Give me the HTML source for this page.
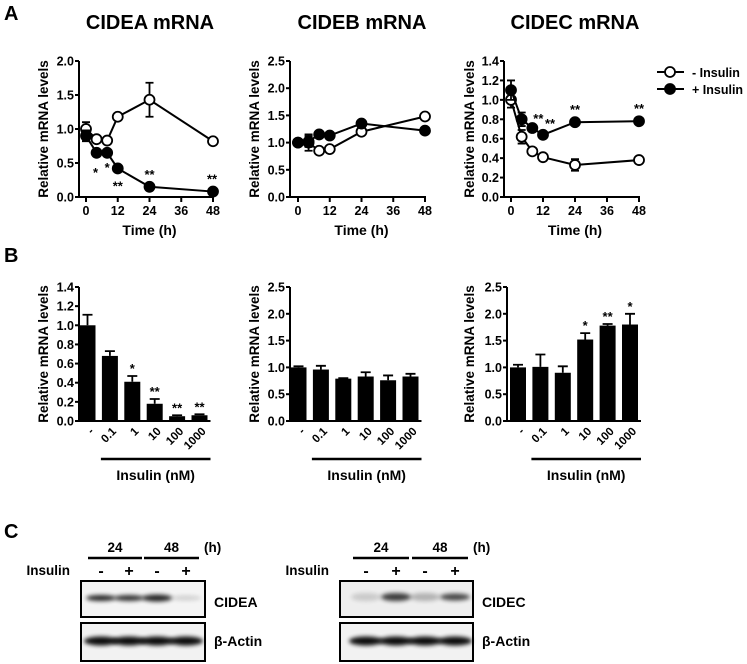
<!DOCTYPE html>
<html><head><meta charset="utf-8">
<style>
html,body{margin:0;padding:0;background:#fff;}
svg{display:block;font-family:"Liberation Sans",Arial,sans-serif;font-weight:bold;}
</style></head>
<body>
<svg id="fig" width="747" height="664" viewBox="0 0 747 664" xmlns="http://www.w3.org/2000/svg">
<defs>
<filter id="blur2" x="-20%" y="-100%" width="140%" height="300%"><feGaussianBlur stdDeviation="2.2"/></filter>
</defs>
<g id="root"></g>
</svg>
<script>
// ---- Panel A data (time course) ----
var timesA = [0, 4, 8, 12, 24, 48];
var ceaOpen = [1.0, 0.85, 0.83, 1.18, 1.43, 0.82];
var ceaOpenErr = [0.1, 0, 0, 0.05, 0.25, 0];
var ceaFilled = [0.9, 0.65, 0.65, 0.42, 0.15, 0.08];
var ceaFilledErr = [0.08, 0, 0, 0, 0, 0];
var cebOpen = [1.0, 1.0, 0.85, 0.88, 1.2, 1.48];
var cebOpenErr = [0, 0.15, 0, 0, 0, 0];
var cebFilled = [1.0, 1.02, 1.15, 1.13, 1.35, 1.22];
var cebFilledErr = [0, 0.1, 0, 0, 0, 0];
var cecOpen = [1.0, 0.62, 0.47, 0.41, 0.33, 0.38];
var cecOpenErr = [0.08, 0.07, 0, 0, 0.06, 0];
var cecFilled = [1.1, 0.8, 0.71, 0.64, 0.77, 0.78];
var cecFilledErr = [0.1, 0.07, 0, 0, 0, 0];
var timeTicks = [0, 12, 24, 36, 48];
var ceaTicks = [0, 0.5, 1.0, 1.5, 2.0];
var cebTicks = [0, 0.5, 1.0, 1.5, 2.0, 2.5];
var cecTicks = [0, 0.2, 0.4, 0.6, 0.8, 1.0, 1.2, 1.4];
// ---- Panel B data (dose) ----
var doseLabels = ['-', '0.1', '1', '10', '100', '1000'];
var bCea = [1.0, 0.68, 0.41, 0.18, 0.05, 0.06];
var bCeaErr = [0.11, 0.05, 0.06, 0.05, 0.01, 0.01];
var bCeaSig = ['', '', '*', '**', '**', '**'];
var bCeb = [1.0, 0.96, 0.79, 0.83, 0.76, 0.83];
var bCebErr = [0.02, 0.07, 0.01, 0.08, 0.09, 0.05];
var bCebSig = ['', '', '', '', '', ''];
var bCec = [1.0, 1.01, 0.9, 1.52, 1.78, 1.8];
var bCecErr = [0.05, 0.23, 0.12, 0.12, 0.03, 0.2];
var bCecSig = ['', '', '', '*', '**', '*'];
var bCeaTicks = [0, 0.2, 0.4, 0.6, 0.8, 1.0, 1.2, 1.4];
var bCebTicks = [0, 0.5, 1.0, 1.5, 2.0, 2.5];

var NS = 'http://www.w3.org/2000/svg';
var root = document.getElementById('root');
function mk(tag, attrs, parent, text) {
  var e = document.createElementNS(NS, tag);
  for (var k in attrs) e.setAttribute(k, attrs[k]);
  if (text !== undefined) e.textContent = text;
  (parent || root).appendChild(e);
  return e;
}

function yAxis(g, ax, y0, y1, ymax, ticks, title, titleX) {
  var sy = function (v) { return y0 - (y0 - y1) * v / ymax; };
  var l = mk('line', {x1: ax, y1: y0 + 1, x2: ax, y2: y1, stroke: '#000', 'stroke-width': 2}, g);
  
  
  ticks.forEach(function (t) {
    var tl = mk('line', {x1: ax - 4, y1: sy(t), x2: ax, y2: sy(t), stroke: '#000', 'stroke-width': 2}, g);
    
    
    var tx = mk('text', {x: ax - 5, y: sy(t) + 4.5, 'text-anchor': 'end', 'font-size': 12.5}, g, t.toFixed(1));
    
    
  });
  var ty = mk('text', {x: 0, y: 0, 'text-anchor': 'middle', 'font-size': 13.5,
    transform: 'translate(' + titleX + ',' + ((y0 + y1) / 2) + ') rotate(-90)'}, g, title);
  
  
  return sy;
}

function lineChart(cfg) {
  var g = mk('g', {});
  
  
  var y0 = 197, y1 = 61;
  var sy = yAxis(g, cfg.ax, y0, y1, cfg.ymax, cfg.ticks, 'Relative mRNA levels', cfg.titleX);
  var sx = function (t) { return cfg.x0 + (cfg.x48 - cfg.x0) * t / 48; };
  var xl = mk('line', {x1: cfg.ax - 1, y1: y0, x2: sx(48) + 1, y2: y0, stroke: '#000', 'stroke-width': 2}, g);
  
  
  timeTicks.forEach(function (t) {
    var tl = mk('line', {x1: sx(t), y1: y0, x2: sx(t), y2: y0 + 5, stroke: '#000', 'stroke-width': 2}, g);
    
    
    var tx = mk('text', {x: sx(t), y: y0 + 18, 'text-anchor': 'middle', 'font-size': 12.5}, g, String(t));
    
    
  });
  var xt = mk('text', {x: (sx(0) + sx(48)) / 2, y: y0 + 38, 'text-anchor': 'middle', 'font-size': 14}, g, 'Time (h)');
  
  
  var tt = mk('text', {x: cfg.titleCx, y: 29, 'text-anchor': 'middle', 'font-size': 20}, g, cfg.title);
  
  
  [[cfg.open, cfg.openErr, '#fff', 'series-minus-insulin'], [cfg.filled, cfg.filledErr, '#000', 'series-plus-insulin']].forEach(function (s) {
    var sg = mk('g', {}, g);
    
    
    var pts = s[0].map(function (v, i) { return sx(timesA[i]) + ',' + sy(v); }).join(' ');
    var pl = mk('polyline', {points: pts, fill: 'none', stroke: '#000', 'stroke-width': 2}, sg);
    
    
    s[0].forEach(function (v, i) {
      var e = s[1][i], x = sx(timesA[i]);
      if (e > 0) {
        var eb = mk('path', {d: 'M' + x + ',' + sy(v - e) + 'V' + sy(v + e) + 'M' + (x - 4) + ',' + sy(v + e) + 'H' + (x + 4) + 'M' + (x - 4) + ',' + sy(v - e) + 'H' + (x + 4), stroke: '#000', 'stroke-width': 1.8, fill: 'none'}, sg);
        
        
      }
      var c = mk('circle', {cx: x, cy: sy(v), r: 5, fill: s[2], stroke: '#000', 'stroke-width': 1.8}, sg);
      
      
    });
  });
  (cfg.stars || []).forEach(function (st) {
    var s = mk('text', {x: sx(timesA[st[0]]) + st[2], y: sy(cfg.filled[st[0]]) + st[3], 'text-anchor': 'middle', 'font-size': 13}, g, st[1]);
    
    
  });
}

lineChart({name: 'cidea-time-chart', title: 'CIDEA mRNA', titleCx: 150, ax: 79, x0: 86, x48: 213, ymax: 2.0, ticks: ceaTicks, titleX: 48,
  open: ceaOpen, openErr: ceaOpenErr, filled: ceaFilled, filledErr: ceaFilledErr,
  stars: [[1, '*', -1, 24], [2, '*', 0, 19], [3, '**', 0, 22], [4, '**', 0, -8], [5, '**', -1, -8]]});
lineChart({name: 'cideb-time-chart', title: 'CIDEB mRNA', titleCx: 362, ax: 290, x0: 298, x48: 425, ymax: 2.5, ticks: cebTicks, titleX: 259,
  open: cebOpen, openErr: cebOpenErr, filled: cebFilled, filledErr: cebFilledErr, stars: []});
lineChart({name: 'cidec-time-chart', title: 'CIDEC mRNA', titleCx: 575, ax: 504, x0: 511, x48: 639, ymax: 1.4, ticks: cecTicks, titleX: 474,
  open: cecOpen, openErr: cecOpenErr, filled: cecFilled, filledErr: cecFilledErr,
  stars: [[2, '**', 6, -5], [3, '**', 7, -7], [4, '**', 0, -8], [5, '**', 0, -8]]});

function barChart(cfg) {
  var g = mk('g', {});
  
  
  var y0 = 421, y1 = 287;
  var sy = yAxis(g, cfg.ax, y0, y1, cfg.ymax, cfg.ticks, 'Relative mRNA levels', cfg.titleX);
  var bx = function (i) { return cfg.b0 + i * 22.4; };
  cfg.vals.forEach(function (v, i) {
    var x = bx(i), e = cfg.err[i];
    var eb = mk('path', {d: 'M' + x + ',' + sy(v) + 'V' + sy(v + e) + 'M' + (x - 5) + ',' + sy(v + e) + 'H' + (x + 5), stroke: '#000', 'stroke-width': 1.8, fill: 'none'}, g);
    
    
    var r = mk('rect', {x: x - 8, y: sy(v), width: 16, height: y0 - sy(v), fill: '#000'}, g);
    
    
    if (cfg.sig[i]) {
      var s = mk('text', {x: x, y: sy(v + e) - 3, 'text-anchor': 'middle', 'font-size': 13}, g, cfg.sig[i]);
      
      
    }
    var tl = mk('text', {x: 0, y: 0, 'text-anchor': 'end', 'font-size': 11.5, transform: 'translate(' + (x + 7) + ',' + (y0 + 11) + ') rotate(-45)'}, g, doseLabels[i]);
    
    
  });
  var xl = mk('line', {x1: cfg.ax - 1, y1: y0, x2: bx(5) + 11, y2: y0, stroke: '#000', 'stroke-width': 2}, g);
  
  
  var ul = mk('line', {x1: bx(1) - 9, y1: 459, x2: bx(5) + 11, y2: 459, stroke: '#000', 'stroke-width': 2.5}, g);
  
  
  var xt = mk('text', {x: (bx(1) + bx(5)) / 2 + 1, y: 480, 'text-anchor': 'middle', 'font-size': 14}, g, 'Insulin (nM)');
  
  
}
barChart({name: 'cidea-dose-chart', ax: 79, b0: 87.5, ymax: 1.4, ticks: bCeaTicks, titleX: 48, vals: bCea, err: bCeaErr, sig: bCeaSig});
barChart({name: 'cideb-dose-chart', ax: 290, b0: 298.5, ymax: 2.5, ticks: bCebTicks, titleX: 259, vals: bCeb, err: bCebErr, sig: bCebSig});
barChart({name: 'cidec-dose-chart', ax: 507, b0: 518, ymax: 2.5, ticks: bCebTicks, titleX: 474, vals: bCec, err: bCecErr, sig: bCecSig});

// legend
var lg = mk('g', {});


[['#fff', '- Insulin', 72], ['#000', '+ Insulin', 89]].forEach(function (it) {
  var e = mk('g', {}, lg);
  
  
  mk('line', {x1: 657, y1: it[2], x2: 684, y2: it[2], stroke: '#000', 'stroke-width': 2}, e);
  mk('circle', {cx: 670, cy: it[2], r: 5, fill: it[0], stroke: '#000', 'stroke-width': 1.8}, e);
  mk('text', {x: 692, y: it[2] + 5, 'font-size': 12.5}, e, it[1]);
});

// panel letters
[['A', 4, 20], ['B', 4, 262], ['C', 4, 538]].forEach(function (p) {
  var t = mk('text', {x: p[1], y: p[2], 'font-size': 20}, root, p[0]);
  
  
});

// western blots
function blot(cfg) {
  var g = mk('g', {});
  
  
  var L = cfg.x, R = cfg.x + cfg.w;
  [[0, 2, '24'], [2, 4, '48']].forEach(function (h) {
    var a = cfg.lanes[h[0]] - 13, b = cfg.lanes[h[1] - 1] + 13;
    mk('line', {x1: a, y1: 558, x2: b, y2: 558, stroke: '#000', 'stroke-width': 2.5}, g);
    var t = mk('text', {x: (a + b) / 2, y: 552, 'text-anchor': 'middle', 'font-size': 13.5}, g, h[2]);
    
    
  });
  mk('text', {x: cfg.lanes[3] + 18, y: 552, 'font-size': 13.5}, g, '(h)');
  var ins = mk('text', {x: cfg.x - 11, y: 575, 'text-anchor': 'end', 'font-size': 13.5}, g, 'Insulin');
  
  
  ['-', '+', '-', '+'].forEach(function (s, i) {
    mk('text', {x: cfg.lanes[i], y: 576, 'text-anchor': 'middle', 'font-size': 16}, g, s);
  });
  var top = mk('g', {}, g);
  
  
  mk('rect', {x: L, y: 581, width: cfg.w, height: 36, fill: cfg.bg1, stroke: '#000', 'stroke-width': 2}, top);
  cfg.bands.forEach(function (b, i) {
    mk('ellipse', {cx: cfg.lanes[i], cy: cfg.bandY, rx: 15, ry: b[1], fill: '#000', opacity: b[0], filter: 'url(#blur2)'}, top);
  });
  mk('text', {x: R + 9, y: 607, 'font-size': 14}, g, cfg.label);
  var bot = mk('g', {}, g);
  
  
  mk('rect', {x: L, y: 623, width: cfg.w, height: 38, fill: '#f2f2f2', stroke: '#000', 'stroke-width': 2}, bot);
  cfg.lanes.forEach(function (x) {
    mk('ellipse', {cx: x, cy: 641, rx: 17, ry: 4.5, fill: '#000', opacity: 0.95, filter: 'url(#blur2)'}, bot);
  });
  mk('text', {x: R + 9, y: 646, 'font-size': 14}, g, 'β-Actin');
}
blot({name: 'cidea-western-blot', label: 'CIDEA', x: 81, w: 124, lanes: [101, 129, 157, 186], bandY: 598, bg1: '#f4f4f4',
  bands: [[0.85, 3], [0.8, 3], [0.85, 3.5], [0.15, 2.5]]});
blot({name: 'cidec-western-blot', label: 'CIDEC', x: 340, w: 133, lanes: [366, 396, 425, 455], bandY: 597, bg1: '#eeeeee',
  bands: [[0.15, 4], [0.75, 4], [0.25, 4], [0.7, 3.5]]});
</script>
</body></html>
